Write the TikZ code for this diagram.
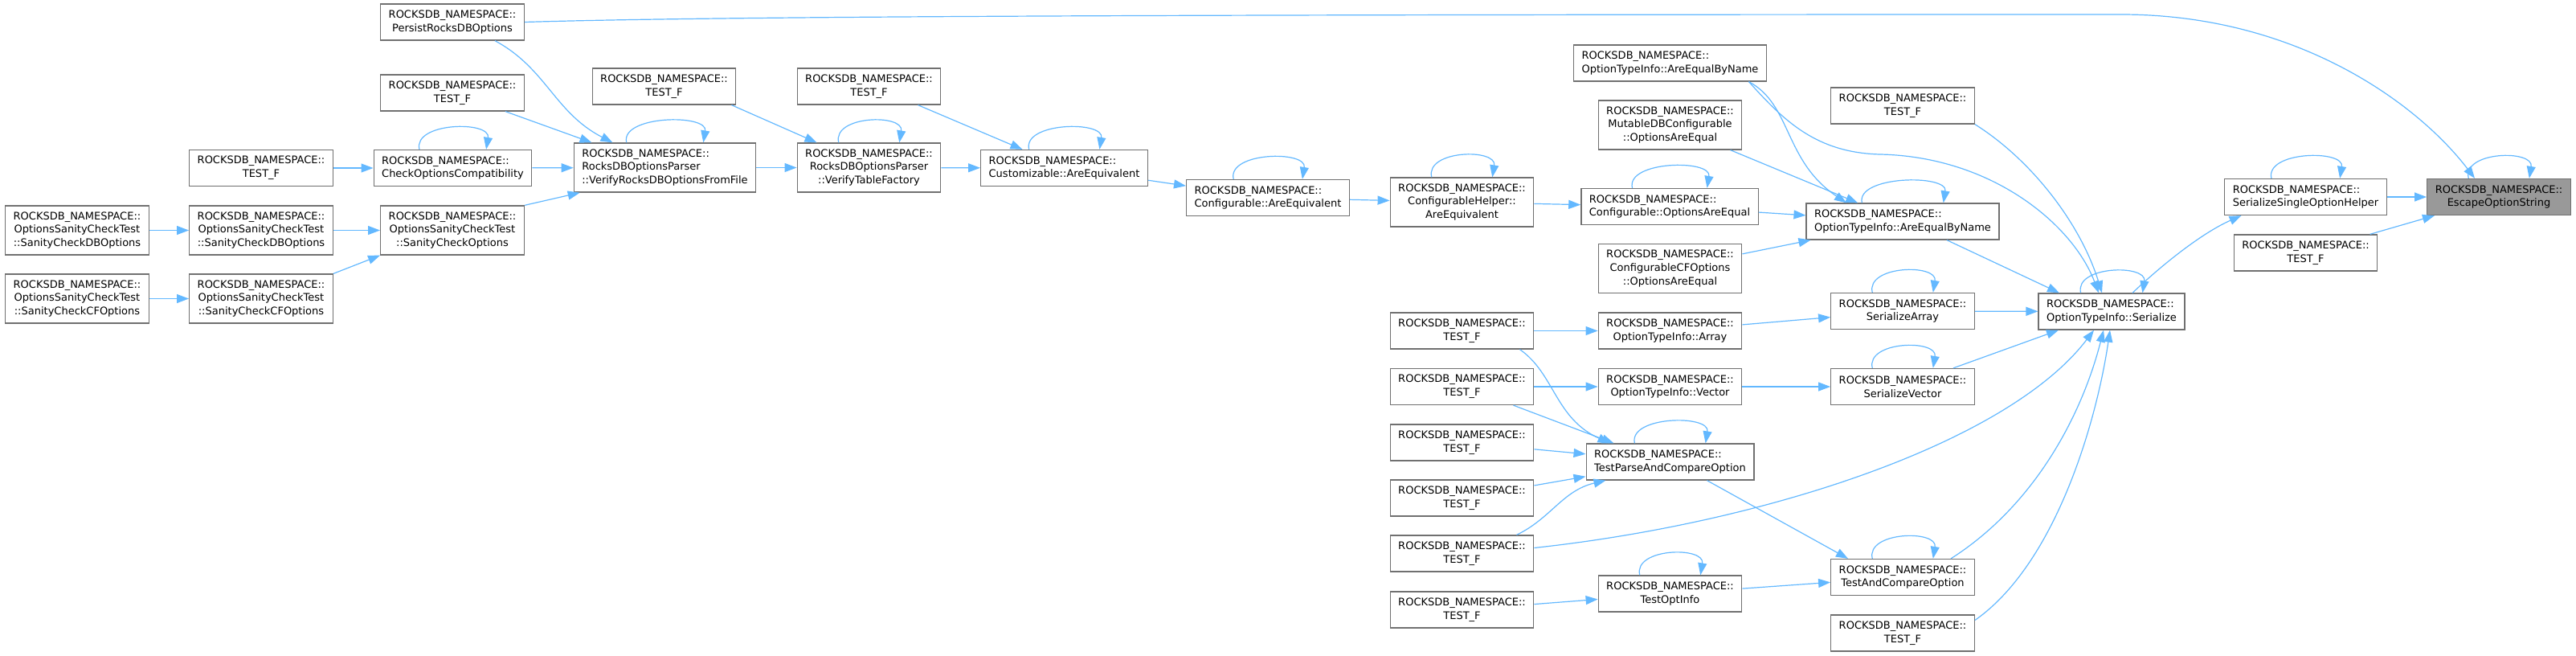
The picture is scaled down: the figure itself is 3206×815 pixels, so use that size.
\documentclass[tikz,border=0pt]{standalone}
\usepackage{fontspec}
\setmainfont{DejaVu Sans}
\usepackage{tikz}
\usetikzlibrary{arrows.meta, calc}

\definecolor{edgeblue}{HTML}{63B8FF}
\definecolor{boxgray}{HTML}{707070}
\definecolor{mainfill}{HTML}{999999}

% loop over the top side of a node
\newcommand{\selfloop}[1]{%
  \draw[callarrow] ($(#1.north west)!0.29!(#1.north east)$)
    .. controls +(-8,-34) and +(6,-36) .. ($(#1.north west)!0.71!(#1.north east)$);}

\begin{document}
\begin{tikzpicture}[x=1pt, y=-1pt,
  fn/.style={rectangle, draw=boxgray, fill=white, line width=1.3pt, inner xsep=10pt,
             inner ysep=2pt, minimum height=45pt, align=center,
             font=\fontsize{13}{16.7}\selectfont},
  tall/.style={minimum height=61pt},
  lft/.style={align=left},
  callarrow/.style={draw=edgeblue, line width=1.2pt, -{Triangle[length=15pt, width=11pt]}}
]
\useasboundingbox (0,0) rectangle (3206,815);

% Sanity check tests (left)
\node[fn, tall] (sdbA) at (96,286.5) {ROCKSDB\_NAMESPACE::\\OptionsSanityCheckTest\\::SanityCheckDBOptions};
\node[fn, tall] (scfA) at (96,371.5) {ROCKSDB\_NAMESPACE::\\OptionsSanityCheckTest\\::SanityCheckCFOptions};
\node[fn] (testA) at (325,209) {ROCKSDB\_NAMESPACE::\\TEST\_F};
\node[fn, tall] (sdbB) at (325,286.5) {ROCKSDB\_NAMESPACE::\\OptionsSanityCheckTest\\::SanityCheckDBOptions};
\node[fn, tall] (scfB) at (325,371.5) {ROCKSDB\_NAMESPACE::\\OptionsSanityCheckTest\\::SanityCheckCFOptions};
\node[fn] (persist) at (563,27.5) {ROCKSDB\_NAMESPACE::\\PersistRocksDBOptions};
\node[fn] (testB) at (563,115.5) {ROCKSDB\_NAMESPACE::\\TEST\_F};
\node[fn, lft] (checkopt) at (563.5,209) {ROCKSDB\_NAMESPACE::\\CheckOptionsCompatibility};
\node[fn, tall] (sanity) at (563,286.5) {ROCKSDB\_NAMESPACE::\\OptionsSanityCheckTest\\::SanityCheckOptions};

% Parser and equivalence chain
\node[fn] (testC) at (826.5,107.5) {ROCKSDB\_NAMESPACE::\\TEST\_F};
\node[fn, tall, lft] (verifyfile) at (827.5,208.5) {ROCKSDB\_NAMESPACE::\\RocksDBOptionsParser\\::VerifyRocksDBOptionsFromFile};
\node[fn] (testD) at (1081.5,107.5) {ROCKSDB\_NAMESPACE::\\TEST\_F};
\node[fn, tall] (verifytable) at (1081.5,208.5) {ROCKSDB\_NAMESPACE::\\RocksDBOptionsParser\\::VerifyTableFactory};
\node[fn, lft] (customizable) at (1324.5,209) {ROCKSDB\_NAMESPACE::\\Customizable::AreEquivalent};
\node[fn, lft] (confequiv) at (1578,246) {ROCKSDB\_NAMESPACE::\\Configurable::AreEquivalent};
\node[fn, tall] (confhelper) at (1819.5,251.5) {ROCKSDB\_NAMESPACE::\\ConfigurableHelper::\\AreEquivalent};

% OptionsAreEqual column
\node[fn, lft] (eqnameTop) at (2078.5,78.5) {ROCKSDB\_NAMESPACE::\\OptionTypeInfo::AreEqualByName};
\node[fn, tall] (mutabledb) at (2078.5,155.5) {ROCKSDB\_NAMESPACE::\\MutableDBConfigurable\\::OptionsAreEqual};
\node[fn, lft] (confopteq) at (2078,257) {ROCKSDB\_NAMESPACE::\\Configurable::OptionsAreEqual};
\node[fn, tall] (cfopteq) at (2078.5,334) {ROCKSDB\_NAMESPACE::\\ConfigurableCFOptions\\::OptionsAreEqual};

% Tests feeding the serializers
\node[fn] (testE) at (1819.5,411.5) {ROCKSDB\_NAMESPACE::\\TEST\_F};
\node[fn] (testF) at (1819.5,481) {ROCKSDB\_NAMESPACE::\\TEST\_F};
\node[fn] (testG) at (1819.5,550.5) {ROCKSDB\_NAMESPACE::\\TEST\_F};
\node[fn] (testH) at (1819.5,619.5) {ROCKSDB\_NAMESPACE::\\TEST\_F};
\node[fn] (testI) at (1819.5,688.5) {ROCKSDB\_NAMESPACE::\\TEST\_F};
\node[fn] (testJ) at (1819.5,758.5) {ROCKSDB\_NAMESPACE::\\TEST\_F};
\node[fn] (array) at (2078.5,411.5) {ROCKSDB\_NAMESPACE::\\OptionTypeInfo::Array};
\node[fn] (vector) at (2078.5,481) {ROCKSDB\_NAMESPACE::\\OptionTypeInfo::Vector};
\node[fn, lft] (testparse) at (2078.5,574.5) {ROCKSDB\_NAMESPACE::\\TestParseAndCompareOption};
\node[fn] (testoptinfo) at (2078.5,738.5) {ROCKSDB\_NAMESPACE::\\TestOptInfo};

% Serializers
\node[fn] (testK) at (2368,131.5) {ROCKSDB\_NAMESPACE::\\TEST\_F};
\node[fn, lft] (eqname) at (2368,275.5) {ROCKSDB\_NAMESPACE::\\OptionTypeInfo::AreEqualByName};
\node[fn] (serarray) at (2368,387) {ROCKSDB\_NAMESPACE::\\SerializeArray};
\node[fn] (servector) at (2368,481) {ROCKSDB\_NAMESPACE::\\SerializeVector};
\node[fn] (testandcmp) at (2368,718) {ROCKSDB\_NAMESPACE::\\TestAndCompareOption};
\node[fn] (testL) at (2368,787.5) {ROCKSDB\_NAMESPACE::\\TEST\_F};
\node[fn, lft] (serialize) at (2628,387.5) {ROCKSDB\_NAMESPACE::\\OptionTypeInfo::Serialize};
\node[fn, lft] (ssoh) at (2869.5,245) {ROCKSDB\_NAMESPACE::\\SerializeSingleOptionHelper};
\node[fn] (testM) at (2869.5,314.5) {ROCKSDB\_NAMESPACE::\\TEST\_F};
\node[fn, fill=mainfill] (escape) at (3110,245) {ROCKSDB\_NAMESPACE::\\EscapeOptionString};

% Left calls
\draw[callarrow] (sdbA) -- (sdbB);
\draw[callarrow] (scfA) -- (scfB);
\draw[callarrow] (sdbB) -- (sanity);
\draw[callarrow] (scfB.north east) -- (sanity.south west);
\draw[callarrow] (testA) -- (checkopt);
\selfloop{checkopt}

% Into the parser
\draw[callarrow] ([xshift=53pt]persist.south) .. controls (680,85) and (690,140) .. ([xshift=-65pt]verifyfile.north);
\draw[callarrow] ([xshift=66pt]testB.south) -- ([xshift=-91pt]verifyfile.north);
\draw[callarrow] (checkopt) -- (verifyfile);
\draw[callarrow] (sanity.north east) -- ([xshift=8pt]verifyfile.south west);
\draw[callarrow] (persist.east) .. controls (900,20) and (1500,18) .. (2640,18)
  .. controls (2860,18) and (3010,130) .. ([xshift=-30pt]escape.north);
\selfloop{verifyfile}
\draw[callarrow] ([xshift=84pt]testC.south) -- ([xshift=-65pt]verifytable.north);
\draw[callarrow] (verifyfile) -- (verifytable);
\selfloop{verifytable}
\draw[callarrow] ([xshift=61pt]testD.south) -- ([xshift=-52pt]customizable.north);
\draw[callarrow] (verifytable) -- (customizable);
\selfloop{customizable}
\draw[callarrow] (customizable) -- (confequiv);
\selfloop{confequiv}
\draw[callarrow] (confequiv) -- (confhelper);
\selfloop{confhelper}
\draw[callarrow] (confhelper) -- (confopteq);
\selfloop{confopteq}

% AreEqualByName
\draw[callarrow] (confopteq) -- (eqname);
\draw[callarrow] (mutabledb) -- (eqname);
\draw[callarrow] (cfopteq) -- (eqname);
\draw[callarrow] ([xshift=98pt]eqnameTop.south) .. controls (2230,130) and (2220,200) .. ([xshift=-70pt]eqname.north);
\selfloop{eqname}

% Into Serialize
\draw[callarrow] ([xshift=98pt]eqnameTop.south) .. controls (2220,150) and (2260,190) .. (2340,192)
  .. controls (2480,195) and (2580,280) .. ([xshift=-16pt]serialize.north);
\draw[callarrow] (testK.south east) .. controls (2530,200) and (2590,280) .. ([xshift=-12pt]serialize.north);
\draw[callarrow] ([xshift=55pt]eqname.south) -- ([xshift=-65pt]serialize.north);
\draw[callarrow] (serarray) -- (serialize);
\selfloop{serarray}
\draw[callarrow] (array) -- (serarray);
\draw[callarrow] (testE) -- (array);
\draw[callarrow] (testF) -- (vector);
\draw[callarrow] (vector) -- (servector);
\selfloop{servector}
\draw[callarrow] ([xshift=63pt]servector.north) -- ([xshift=-66pt]serialize.south);

% TestParseAndCompareOption
\draw[callarrow] ([xshift=72pt]testE.south) .. controls (1935,465) and (1935,520) .. ([xshift=-75pt]testparse.north);
\draw[callarrow] ([xshift=64pt]testF.south) -- ([xshift=-70pt]testparse.north);
\draw[callarrow] (testG) -- (testparse);
\draw[callarrow] (testH) -- (testparse);
\draw[callarrow] ([xshift=68pt]testI.north) .. controls (1930,645) and (1945,610) .. ([xshift=-80pt]testparse.south);
\draw[callarrow] ([yshift=7pt]testI.east) .. controls (2200,650) and (2500,550) .. ([xshift=-22pt]serialize.south);
\selfloop{testparse}
\draw[callarrow] ([xshift=46pt]testparse.south) -- ([xshift=-68pt]testandcmp.north);
\draw[callarrow] (testJ) -- (testoptinfo);
\selfloop{testoptinfo}
\draw[callarrow] (testoptinfo) -- (testandcmp);
\selfloop{testandcmp}
\draw[callarrow] ([xshift=60pt]testandcmp.north) .. controls (2530,630) and (2590,520) .. ([xshift=-10pt]serialize.south);
\draw[callarrow] ([yshift=16pt]testL.east) .. controls (2560,700) and (2610,520) .. ([xshift=-2pt]serialize.south);
\selfloop{serialize}

% Towards EscapeOptionString
\draw[callarrow] ([xshift=26pt]serialize.north) .. controls (2690,330) and (2740,290) .. ([xshift=-80pt]ssoh.south);
\selfloop{ssoh}
\draw[callarrow] (ssoh) -- (escape);
\draw[callarrow] (testM) -- (escape);
\selfloop{escape}

\end{tikzpicture}
\end{document}
